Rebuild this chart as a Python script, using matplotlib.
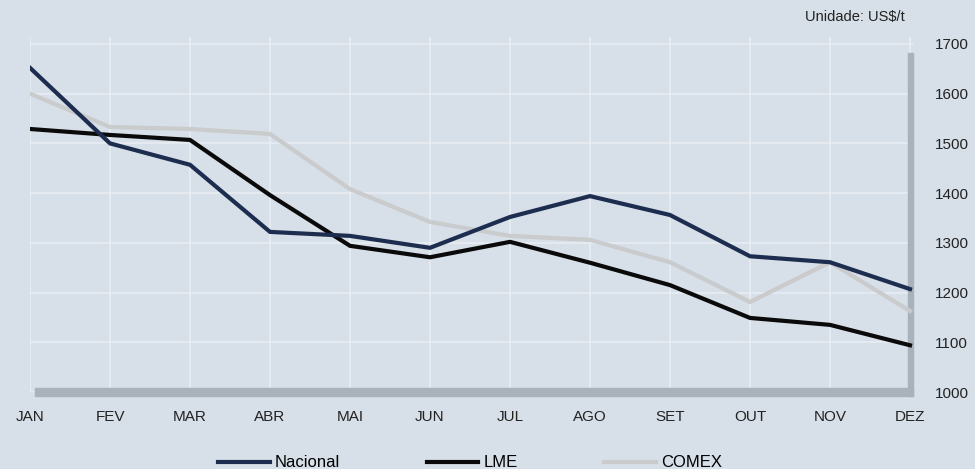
import matplotlib
matplotlib.use("Agg")
import matplotlib.pyplot as plt
from matplotlib.patches import Rectangle

# dados (US$/t)
meses = ["JAN", "FEV", "MAR", "ABR", "MAI", "JUN", "JUL", "AGO", "SET", "OUT", "NOV", "DEZ"]
nacional = [1652, 1500, 1457, 1322, 1314, 1290, 1352, 1394, 1356, 1273, 1261, 1207]
lme = [1529, 1517, 1507, 1396, 1294, 1271, 1302, 1260, 1215, 1149, 1135, 1094]
comex = [1600, 1533, 1529, 1519, 1408, 1342, 1314, 1306, 1261, 1181, 1261, 1163]
y_ticks = [1000, 1100, 1200, 1300, 1400, 1500, 1600, 1700]

fundo = "#d7dfe8"
plt.rcParams['font.family'] = ['Liberation Sans', 'DejaVu Sans']

fig = plt.figure(figsize=(9.75, 4.69), dpi=100, facecolor=fundo)
ax = fig.add_axes([30/975, (469-392)/469, 883/975, 355/469])
ax.set_facecolor(fundo)

x = list(range(len(meses)))
l1, = ax.plot(x, nacional, color="#1d2d4f", lw=3, solid_joinstyle="miter", label="Nacional", zorder=4)
l2, = ax.plot(x, lme, color="#0a0a0a", lw=3, solid_joinstyle="miter", label="LME", zorder=3)
l3, = ax.plot(x, comex, color="#c9cbcd", lw=3, solid_joinstyle="miter", label="COMEX", zorder=2)

ax.set_xlim(0, 11 + 3/80)
ax.set_ylim(1000, 1714)
ax.set_xticks(x)
ax.set_xticklabels(meses, fontsize=11, color="#222222")
ax.set_yticks(y_ticks)
ax.yaxis.tick_right()
ax.set_yticklabels([str(v) for v in y_ticks], fontsize=11, color="#222222")
ax.tick_params(axis="both", length=0)
ax.tick_params(axis="x", pad=13)
ax.tick_params(axis="y", pad=16)
ax.grid(True, color="#e9eef3", lw=1.1)
ax.set_axisbelow(True)
for s in ax.spines.values():
    s.set_visible(False)

# sombra do quadro (base e lado direito)
ax.add_patch(Rectangle((0.006, -0.011), 0.994, 0.021, transform=ax.transAxes,
                       color="#a9b1ba", clip_on=False, zorder=1))
ax.add_patch(Rectangle((0.9945, -0.011), 0.0055, 0.967, transform=ax.transAxes,
                       color="#a9b1ba", clip_on=False, zorder=1))

fig.text(905/975, 1 - 17/469, "Unidade: US$/t", ha="right", va="center", fontsize=10.5,
         color="#222222")

fig.legend(handles=[l1, l2, l3], loc="lower center", bbox_to_anchor=(0.482, -0.035),
           ncol=3, frameon=False, fontsize=12, handlelength=3.1, columnspacing=5.2,
           handletextpad=0.3)

plt.savefig("out.png", dpi=100, facecolor=fundo)
